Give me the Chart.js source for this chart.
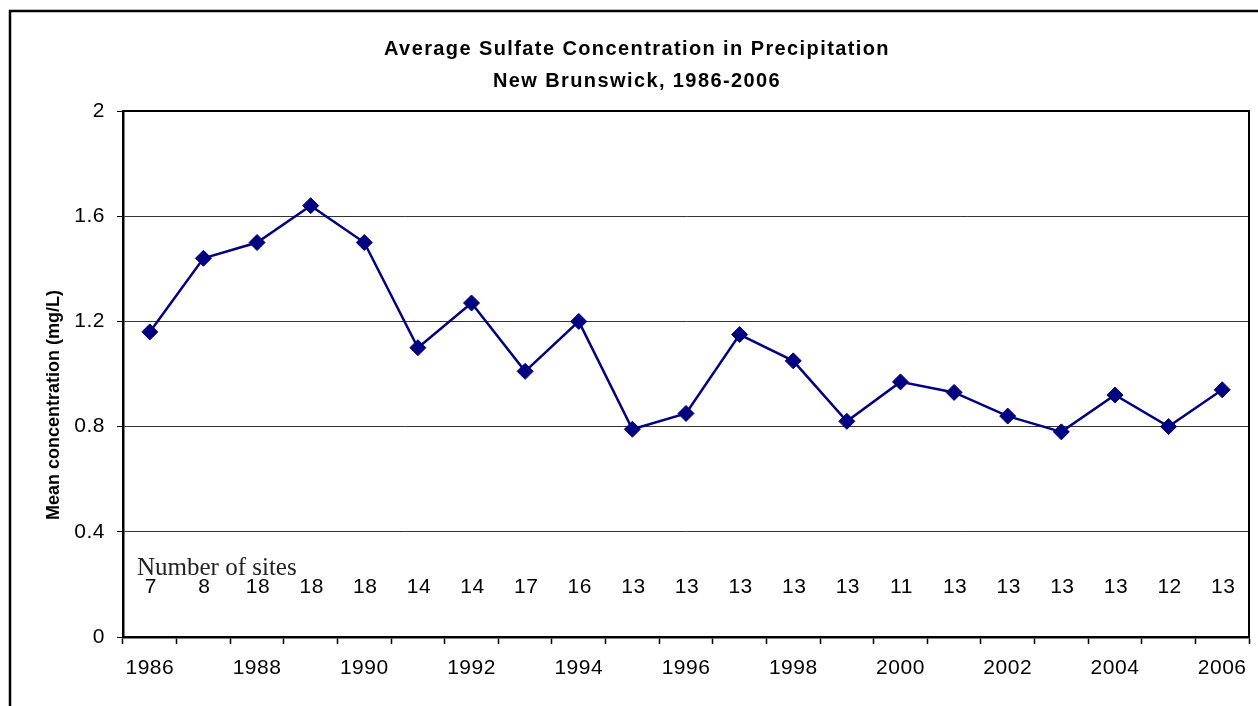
<!DOCTYPE html>
<html>
<head>
<meta charset="utf-8">
<script src="https://cdn.jsdelivr.net/npm/chart.js@4"></script>
<style>
  html, body { margin: 0; padding: 0; background: #fff; }
  #wrap { width: 1258px; height: 706px; }
</style>
</head>
<body>
<div id="wrap"><canvas id="sulfateChart" width="1258" height="706"></canvas></div>
<script>
// data
const years = ['1986', '1987', '1988', '1989', '1990', '1991', '1992', '1993', '1994', '1995', '1996',
               '1997', '1998', '1999', '2000', '2001', '2002', '2003', '2004', '2005', '2006'];
const meanConc = [1.16, 1.44, 1.50, 1.64, 1.50, 1.10, 1.27, 1.01, 1.20, 0.79, 0.85,
                  1.15, 1.05, 0.82, 0.97, 0.93, 0.84, 0.78, 0.92, 0.80, 0.94];
const siteCounts = [7, 8, 18, 18, 18, 14, 14, 17, 16, 13, 13, 13, 13, 13, 11, 13, 13, 13, 13, 12, 13];
const yTicks = [0, 0.4, 0.8, 1.2, 1.6, 2];

const titleLines = ['Average Sulfate Concentration in Precipitation', 'New Brunswick, 1986-2006'];
const yTitle = 'Mean concentration (mg/L)';
const sitesLabel = 'Number of sites';

const sans = "'Liberation Sans', Arial, sans-serif";

const extras = {
    id: 'extras',
    beforeDraw(chart) {
        chart.ctx.letterSpacing = '0.5px';
    },
    afterDraw(chart) {
        const ctx = chart.ctx;
        const area = chart.chartArea;
        const x = chart.scales.x;
        const y = chart.scales.y;
        ctx.save();

        // outer frame
        ctx.strokeStyle = '#000';
        ctx.lineWidth = 2.5;
        ctx.strokeRect(10, 11, 1300, 800);

        // plot frame top / right
        ctx.lineWidth = 2;
        ctx.beginPath();
        ctx.moveTo(area.left, area.top);
        ctx.lineTo(area.right, area.top);
        ctx.lineTo(area.right, area.bottom);
        ctx.stroke();

        // title
        ctx.fillStyle = '#000';
        ctx.textAlign = 'center';
        ctx.textBaseline = 'middle';
        ctx.font = "bold 20px " + sans;
        ctx.letterSpacing = '1.4px';
        ctx.fillText(titleLines[0], 637, 49);
        ctx.fillText(titleLines[1], 637, 81);

        // y axis title
        ctx.save();
        ctx.translate(54, 405);
        ctx.rotate(-Math.PI / 2);
        ctx.letterSpacing = '0px';
        ctx.font = "bold 18px " + sans;
        ctx.fillText(yTitle, 0, 0);
        ctx.restore();

        // number of sites
        ctx.textAlign = 'left';
        ctx.textBaseline = 'alphabetic';
        ctx.letterSpacing = '0px';
        ctx.font = "25px 'Liberation Serif', 'Times New Roman', serif";
        ctx.fillStyle = '#222';
        ctx.fillText(sitesLabel, 137, 575);

        ctx.textAlign = 'center';
        ctx.textBaseline = 'middle';
        ctx.letterSpacing = '0.5px';
        ctx.font = "21px " + sans;
        ctx.fillStyle = '#000';
        siteCounts.forEach((n, i) => {
            ctx.fillText(String(n), x.getPixelForValue(i) + 1, y.getPixelForValue(0.19));
        });
        ctx.restore();
    }
};

new Chart(document.getElementById('sulfateChart'), {
    type: 'line',
    data: {
        labels: years,
        datasets: [{
            data: meanConc,
            borderColor: '#000080',
            backgroundColor: '#000080',
            borderWidth: 2.5,
            pointStyle: 'rectRot',
            pointRadius: 8,
            pointBorderWidth: 1,
            tension: 0
        }]
    },
    options: {
        responsive: false,
        animation: false,
        layout: { padding: { top: 111, right: 5, left: 0, bottom: 0 } },
        plugins: {
            legend: { display: false },
            tooltip: { enabled: false }
        },
        scales: {
            x: {
                type: 'category',
                offset: true,
                afterFit(scale) { scale.height = 69; },
                grid: {
                    offset: true,
                    drawOnChartArea: false,
                    tickLength: 7,
                    tickColor: '#000',
                    tickWidth: 1.5
                },
                border: { color: '#000', width: 2.5 },
                ticks: {
                    autoSkip: false,
                    maxRotation: 0,
                    padding: 12,
                    color: '#000',
                    font: { family: sans, size: 21 },
                    callback: (v, i) => (i % 2 === 0 ? years[i] : '')
                }
            },
            y: {
                min: 0,
                max: 2,
                afterFit(scale) { scale.width = 123; },
                afterBuildTicks(scale) { scale.ticks = yTicks.map(v => ({ value: v })); },
                grid: {
                    color: ctx => (ctx.tick && ctx.tick.value > 0 && ctx.tick.value < 2 ? '#333' : 'rgba(0,0,0,0)'),
                    lineWidth: 1,
                    tickLength: 6,
                    tickColor: '#000',
                    tickWidth: 1
                },
                border: { color: '#000', width: 2.5 },
                ticks: {
                    padding: 12,
                    color: '#000',
                    font: { family: sans, size: 21 },
                    callback: v => String(v)
                }
            }
        }
    },
    plugins: [extras]
});
</script>
</body>
</html>
